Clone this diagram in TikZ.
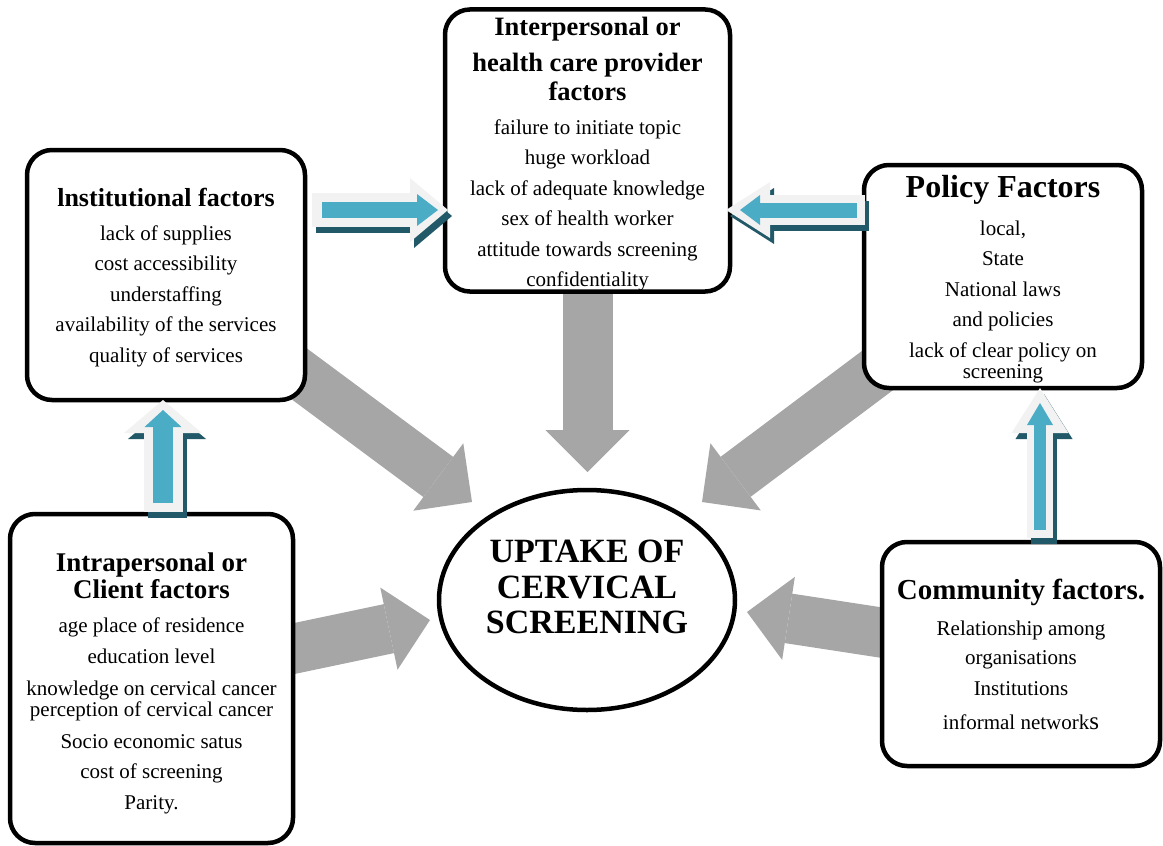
\documentclass[tikz,border=0pt]{standalone}
\usepackage{fontspec}
\setmainfont{Liberation Serif}
\usetikzlibrary{arrows.meta,shapes.geometric,backgrounds}

\definecolor{arrowgrey}{HTML}{A6A6A6}
\definecolor{arrowblue}{HTML}{4BACC6}
\definecolor{arrowrim}{HTML}{F2F2F2}
\definecolor{arrowshade}{HTML}{215968}

\newcommand{\bodyfont}{\normalfont\fontsize{21}{30.5}\selectfont}
\newcommand{\headfont}[1]{\fontsize{#1}{30.5}\selectfont\bfseries}
% invisible strut of the given height, to lower a block of text a little
\newcommand{\topstrut}[1]{\rule{0pt}{#1}}

\begin{document}
\begin{tikzpicture}[x=1pt,y=-1pt,
    factor node/.style={draw,line width=4.5pt,rounded corners=25pt,fill=white,
                        align=center,inner sep=0pt,font=\bodyfont},
    grey arrow/.style={arrowgrey,line width=50pt,-{Triangle[length=42pt,width=84pt,line width=0pt]}},
    block/.style n args={3}{line width=#1,-{Triangle[width=#2,length=#3,line width=0pt]}},
    shade arrow/.style={arrowshade,transform canvas={shift={(4pt,-6pt)}}},
    rim arrow/.style={arrowrim},
    core arrow/.style={arrowblue}]

\useasboundingbox (0,0) rectangle (1163,846);

% every line break falls back to the body font, so each title line sets its own
\node[factor node] (inst) [minimum width=278pt, minimum height=250pt] at (166,275)
  {\topstrut{23.5pt}\headfont{26}lnstitutional factors\\[3.5pt]
   lack of supplies\\ cost accessibility\\ understaffing\\
   availability of the services\\ quality of services};
\node[factor node] (inter) [minimum width=285pt, minimum height=281pt] at (587.5,150.5)
  {\topstrut{26pt}\headfont{26.5}Interpersonal or\\[5.5pt] \headfont{26.5}health care provider\\[-1.5pt]
   \headfont{26.5}factors\\[3.5pt]
   failure to initiate topic\\ huge workload\\ lack of adequate knowledge\\
   sex of health worker\\ attitude towards screening\\ confidentiality};
\node[factor node] (pol) [minimum width=278pt, minimum height=223pt] at (1003,276.5)
  {\topstrut{27.5pt}\headfont{32}Policy Factors\\[7.5pt]
   local,\\ State\\ National laws\\ and policies\\ lack of clear policy on\\[-9.5pt] screening};
\node[factor node] (intra) [minimum width=283pt, minimum height=329pt] at (151.5,678.5)
  {\topstrut{29pt}\headfont{27}Intrapersonal or\\[-3.5pt] \headfont{27}Client factors\\[3.5pt]
   age place of residence\\ education level\\[1.5pt] knowledge on cervical cancer\\[-9.5pt]
   perception of cervical cancer\\[1.5pt] Socio economic satus\\ cost of screening\\ Parity.};
\node[factor node] (comm) [minimum width=278pt, minimum height=224pt] at (1021,654)
  {\headfont{29}Community factors.\\[6pt]
   Relationship among\\[-1.5pt] organisations\\ Institutions\\[3.5pt]
   informal network{\fontsize{25}{30.5}\selectfont s}};
\node[draw,ellipse,line width=4.5pt,fill=white,inner sep=0pt,align=center,
      minimum width=296pt,minimum height=220pt,font=\headfont{34}] (up) at (587,600)
  {UPTAKE OF\\[5pt] CERVICAL\\[5pt] SCREENING\rule[-26pt]{0pt}{26pt}};

% tips of the grey arrows
\coordinate (t1) at (472,502);
\coordinate (t2) at (587.5,472);
\coordinate (t3) at (702,502);
\coordinate (t4) at (430,620);
\coordinate (t5) at (747,612);

\begin{scope}[on background layer]
  \draw[grey arrow] (inst.center) -- (t1);
  \draw[grey arrow] (inter.center) -- (t2);
  \draw[grey arrow] (pol.center) -- (t3);
  \draw[grey arrow] (intra.center) -- (t4);
  \draw[grey arrow] (comm.center) -- (t5);
\end{scope}

% ends of the blue arrows
\coordinate (h1) at (312,210);
\coordinate (h2) at (448,210);
\coordinate (h3) at (865,210);
\coordinate (h4) at (726,210);
\coordinate (v1) at (163,512);
\coordinate (v2) at (163,400);
\coordinate (v3) at (1040,538);
\coordinate (v4) at (1040,388);

\draw[shade arrow,block={34pt}{64pt}{38pt}] (h1) -- (h2);
\draw[rim arrow,block={34pt}{64pt}{38pt}] (h1) -- (h2);
\draw[core arrow,block={16pt}{32pt}{21pt},shorten <=10pt,shorten >=10pt] (h1) -- (h2);

\draw[shade arrow,block={30pt}{56pt}{44pt}] (h3) -- (h4);
\draw[rim arrow,block={30pt}{56pt}{44pt}] (h3) -- (h4);
\draw[core arrow,block={15pt}{30pt}{20pt},shorten <=8pt,shorten >=14pt] (h3) -- (h4);

\draw[shade arrow,block={39pt}{78pt}{33pt}] (v1) -- (v2);
\draw[rim arrow,block={39pt}{78pt}{33pt}] (v1) -- (v2);
\draw[core arrow,block={20pt}{37pt}{17pt},shorten <=9pt,shorten >=10pt] (v1) -- (v2);

\draw[shade arrow,block={26pt}{57pt}{45pt}] (v3) -- (v4);
\draw[rim arrow,block={26pt}{57pt}{45pt}] (v3) -- (v4);
\draw[core arrow,block={12pt}{26pt}{22pt},shorten <=8pt,shorten >=15pt] (v3) -- (v4);

\end{tikzpicture}
\end{document}
